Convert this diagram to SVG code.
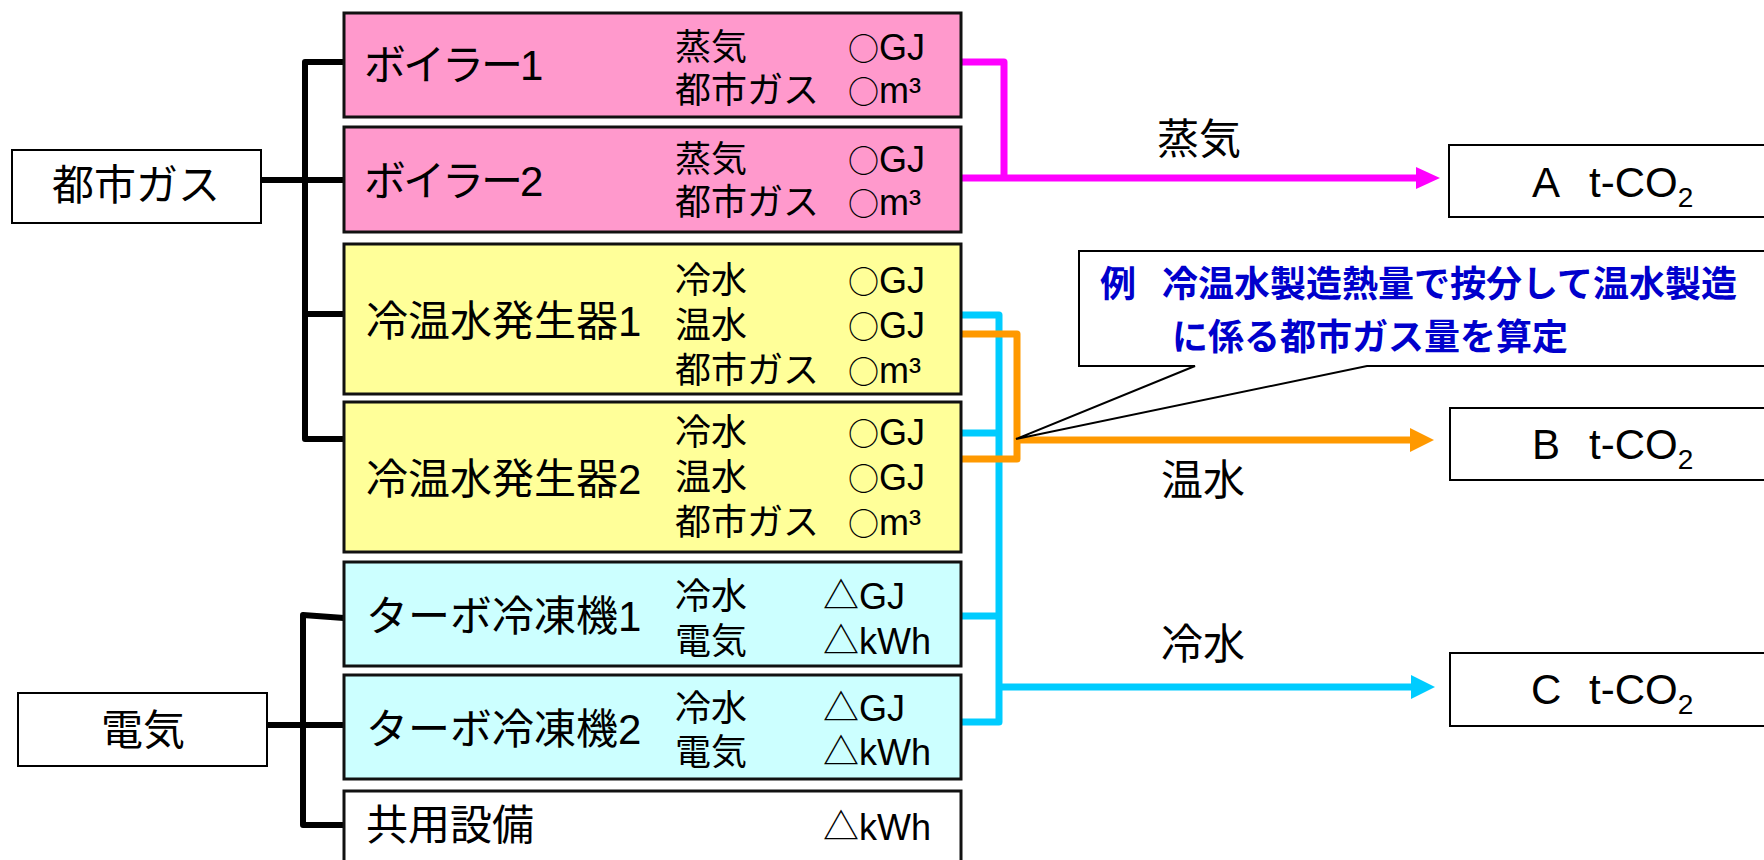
<svg xmlns="http://www.w3.org/2000/svg" width="1764" height="860" viewBox="0 0 1764 860">
<defs>
<style>
text{font-family:"Liberation Sans","Noto Sans CJK JP",sans-serif;fill:#000}
.lbl{font-size:42px}
.det{font-size:36px}
.o{font-family:"Noto Sans CJK JP",sans-serif;font-size:31px}
.note{font-size:36px;font-weight:bold;fill:#0000CC}
.src{fill:#fff;stroke:#000;stroke-width:2}
.eq{stroke:#111;stroke-width:3}
.pink{fill:#FF99CC}
.yel{fill:#FFFF99}
.cyan{fill:#CCFFFF}
.wht{fill:#fff}
.blk{fill:none;stroke:#000;stroke-width:6;stroke-linejoin:round}
.mag{fill:none;stroke:#FF00FF;stroke-width:7;stroke-linejoin:round}
.org{fill:none;stroke:#FF9900;stroke-width:7;stroke-linejoin:round}
.cyn{fill:none;stroke:#00CCFF;stroke-width:7;stroke-linejoin:round}
</style>
<marker id="am" markerUnits="userSpaceOnUse" markerWidth="24" markerHeight="22" refX="0" refY="11" orient="auto"><path d="M0,0 L24,11 L0,22 z" fill="#FF00FF"/></marker>
<marker id="ao" markerUnits="userSpaceOnUse" markerWidth="24" markerHeight="24" refX="0" refY="12" orient="auto"><path d="M0,0 L24,12 L0,24 z" fill="#FF9900"/></marker>
<marker id="ac" markerUnits="userSpaceOnUse" markerWidth="24" markerHeight="24" refX="0" refY="12" orient="auto"><path d="M0,0 L24,12 L0,24 z" fill="#00CCFF"/></marker>
</defs>

<g id="connectors">
<path class="blk" d="M344,62 H305 V439 H344 M261,180 H344 M305,314 H344"/>
<path class="blk" d="M344,618 L303,615 V825 H344 M267,725 H344"/>
<path class="mag" d="M961,62 H1004 V178"/>
<path class="mag" d="M961,178 H1416" marker-end="url(#am)"/>
<path class="cyn" d="M961,315 H999 V722 H961 M961,433 H999 M961,616 H999"/>
<path class="cyn" d="M999,687 H1411" marker-end="url(#ac)"/>
<path class="org" d="M961,334 H1017 V459 H961"/>
<path class="org" d="M1017,440 H1410" marker-end="url(#ao)"/>
</g>

<g id="src-gas"><rect class="src" x="12" y="150" width="249" height="73"/><text class="lbl" x="136" y="200" text-anchor="middle">都市ガス</text></g>
<g id="src-elec"><rect class="src" x="18" y="693" width="249" height="73"/><text class="lbl" x="143" y="745" text-anchor="middle">電気</text></g>

<g id="boiler1"><rect class="eq pink" x="344" y="13" width="617" height="104"/>
<text class="lbl" x="364" y="80" letter-spacing="-3">ボイラー1</text>
<text class="det" x="675" y="60">蒸気</text><text class="det" x="848" y="60"><tspan class="o">○</tspan>GJ</text>
<text class="det" x="675" y="103">都市ガス</text><text class="det" x="848" y="103"><tspan class="o">○</tspan>m³</text></g>

<g id="boiler2"><rect class="eq pink" x="344" y="127" width="617" height="105"/>
<text class="lbl" x="364" y="196" letter-spacing="-3">ボイラー2</text>
<text class="det" x="675" y="172">蒸気</text><text class="det" x="848" y="172"><tspan class="o">○</tspan>GJ</text>
<text class="det" x="675" y="215">都市ガス</text><text class="det" x="848" y="215"><tspan class="o">○</tspan>m³</text></g>

<g id="absorber1"><rect class="eq yel" x="344" y="244" width="617" height="150"/>
<text class="lbl" x="366" y="336">冷温水発生器1</text>
<text class="det" x="675" y="293">冷水</text><text class="det" x="848" y="293"><tspan class="o">○</tspan>GJ</text>
<text class="det" x="675" y="338">温水</text><text class="det" x="848" y="338"><tspan class="o">○</tspan>GJ</text>
<text class="det" x="675" y="383">都市ガス</text><text class="det" x="848" y="383"><tspan class="o">○</tspan>m³</text></g>

<g id="absorber2"><rect class="eq yel" x="344" y="402" width="617" height="150"/>
<text class="lbl" x="366" y="494">冷温水発生器2</text>
<text class="det" x="675" y="445">冷水</text><text class="det" x="848" y="445"><tspan class="o">○</tspan>GJ</text>
<text class="det" x="675" y="490">温水</text><text class="det" x="848" y="490"><tspan class="o">○</tspan>GJ</text>
<text class="det" x="675" y="535">都市ガス</text><text class="det" x="848" y="535"><tspan class="o">○</tspan>m³</text></g>

<g id="turbo1"><rect class="eq cyan" x="344" y="562" width="617" height="104"/>
<text class="lbl" x="366" y="631">ターボ冷凍機1</text>
<text class="det" x="675" y="609">冷水</text><text class="det" x="823" y="609">△GJ</text>
<text class="det" x="675" y="654">電気</text><text class="det" x="823" y="654">△kWh</text></g>

<g id="turbo2"><rect class="eq cyan" x="344" y="675" width="617" height="104"/>
<text class="lbl" x="366" y="744">ターボ冷凍機2</text>
<text class="det" x="675" y="721">冷水</text><text class="det" x="823" y="721">△GJ</text>
<text class="det" x="675" y="765">電気</text><text class="det" x="823" y="765">△kWh</text></g>

<g id="common"><rect class="eq wht" x="344" y="791" width="617" height="90"/>
<text class="lbl" x="366" y="840">共用設備</text>
<text class="det" x="823" y="840">△kWh</text></g>

<g id="lbl-steam"><text class="lbl" x="1157" y="154">蒸気</text></g>
<g id="lbl-hot"><text class="lbl" x="1161" y="495">温水</text></g>
<g id="lbl-cold"><text class="lbl" x="1161" y="659">冷水</text></g>

<g id="result-a"><rect class="src" x="1449" y="145" width="330" height="72"/>
<text class="lbl" y="197"><tspan x="1532">A</tspan><tspan x="1589">t-CO</tspan><tspan font-size="28" dy="10">2</tspan></text></g>
<g id="result-b"><rect class="src" x="1450" y="408" width="330" height="72"/>
<text class="lbl" y="459"><tspan x="1532">B</tspan><tspan x="1589">t-CO</tspan><tspan font-size="28" dy="10">2</tspan></text></g>
<g id="result-c"><rect class="src" x="1450" y="653" width="330" height="73"/>
<text class="lbl" y="704"><tspan x="1531">C</tspan><tspan x="1589">t-CO</tspan><tspan font-size="28" dy="10">2</tspan></text></g>

<g id="callout">
<path d="M1079,251 H1780 V366 H1367 L1016,439 L1195,366 H1079 Z" fill="#fff" stroke="#000" stroke-width="2" stroke-linejoin="miter"/>
<text class="note" y="297"><tspan x="1100">例</tspan><tspan x="1162">冷温水製造熱量で按分して温水製造</tspan></text>
<text class="note" x="1172" y="350">に係る都市ガス量を算定</text>
</g>
</svg>
